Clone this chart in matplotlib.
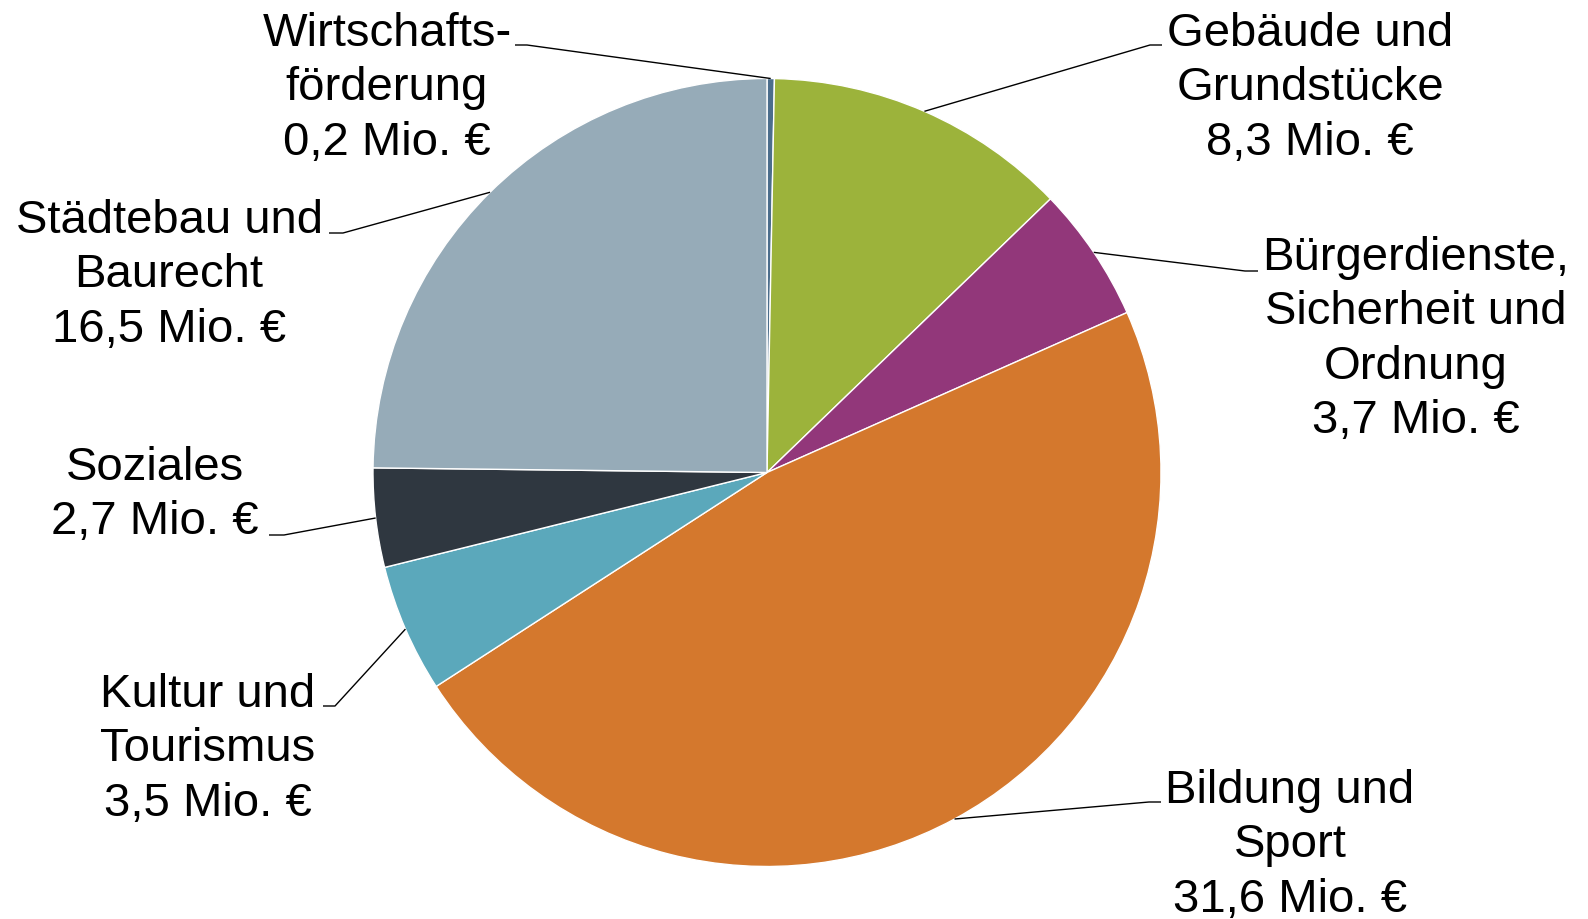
import numpy as np
import matplotlib
matplotlib.use("Agg")
from matplotlib import pyplot as plt

plt.rcParams['font.family'] = ['Liberation Sans', 'DejaVu Sans']

# data, clockwise from 12 o'clock
labels = ["Wirtschafts-\nförderung", "Gebäude und\nGrundstücke",
          "Bürgerdienste,\nSicherheit und\nOrdnung",
          "Bildung und\nSport", "Kultur und\nTourismus", "Soziales",
          "Städtebau und\nBaurecht"]
values = [0.2, 8.3, 3.7, 31.6, 3.5, 2.7, 16.5]
colors = ["#4c6e8c", "#9cb33b", "#92377a", "#d4782d", "#5ba8bb", "#2f3740", "#96abb8"]

W, H = 1588, 919
CX, CY, R = 767, 472.5, 394   # pie centre / radius in pixels (y from top)

# label layout: text centre x, first baseline y, leader elbow, leader end (pixels, y from top)
text_x = [387, 1310, 1416, 1290, 208, 155, 169]
text_y = [46, 46, 270, 803, 707, 480, 233]
elbow = [(527, 45), (1150, 45), (1245, 271), (1149, 802), (335, 706), (284, 535), (343, 233)]
lend = [(515, 45), (1162, 45), (1258, 271), (1161, 802), (323, 706), (269, 535), (329, 233)]
LINE_STEP = 54.3


def fy(y):
    return H - y


fig = plt.figure(figsize=(W / 100, H / 100), dpi=100)
ax = fig.add_axes([0, 0, 1, 1])

wedges, _ = ax.pie(values, colors=colors, startangle=90, counterclock=False,
                   center=(CX, fy(CY)), radius=R,
                   wedgeprops=dict(edgecolor="white", linewidth=1.0))
ax.set_xlim(0, W)
ax.set_ylim(0, H)
ax.set_aspect("equal")
ax.axis("off")

for i, w in enumerate(wedges):
    mid = np.deg2rad((w.theta1 + w.theta2) / 2)
    sx = CX + R * np.cos(mid)
    sy = fy(CY) + R * np.sin(mid)
    ex, ey = elbow[i]
    lx, ly = lend[i]
    ax.plot([sx, ex, lx], [sy, fy(ey), fy(ly)], color="black", lw=1.0,
            solid_capstyle="butt")
    lines = labels[i].split("\n") + ["%s Mio. €" % str(values[i]).replace(".", ",")]
    for j, t in enumerate(lines):
        ax.text(text_x[i], fy(text_y[i] + j * LINE_STEP), t, fontsize=34,
                ha="center", va="baseline", color="black")

fig.savefig("out.png", dpi=100, facecolor="white")
